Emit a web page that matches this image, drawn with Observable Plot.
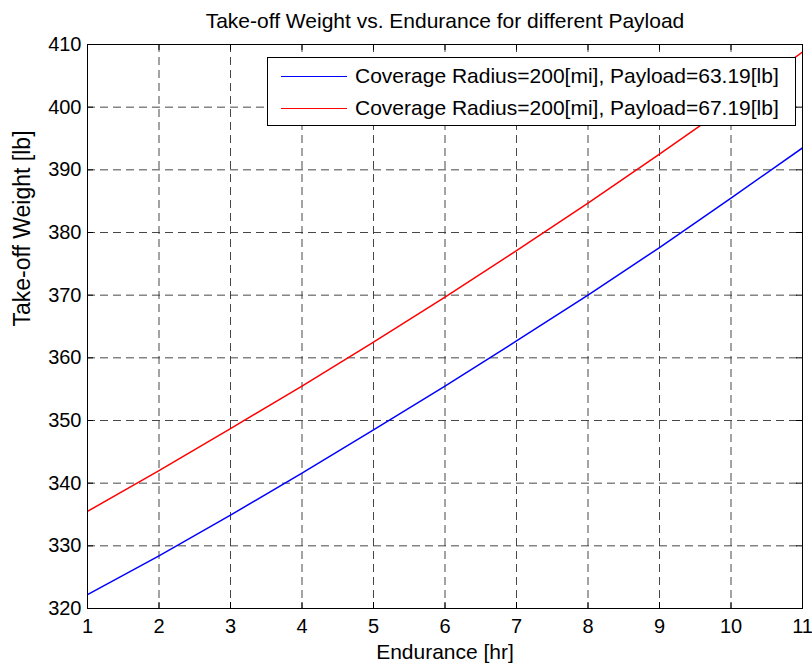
<!DOCTYPE html>
<html>
<head>
<meta charset="utf-8">
<script src="https://cdn.jsdelivr.net/npm/d3@7"></script>
<script src="https://cdn.jsdelivr.net/npm/@observablehq/plot@0.6"></script>
<style>
  html, body { margin: 0; padding: 0; background: #fff; }
  #chart { position: relative; width: 812px; height: 666px; font-family: "Liberation Sans", Arial, sans-serif; }
  #legend {
    position: absolute; left: 267px; top: 57px; width: 527px; height: 67px;
    border: 1px solid #000; background: #fff;
    font-size: 21px; color: #000;
  }
  .row { position: absolute; left: 0; height: 32px; display: flex; align-items: center; white-space: nowrap; }
  .swatch { display: inline-block; width: 66px; height: 0; border-top: 1.4px solid; margin-left: 13px; margin-right: 8px; }
</style>
</head>
<body>
<div id="chart"></div>
<script>
// Endurance in hours
const endurance = [1, 2, 3, 4, 5, 6, 7, 8, 9, 10, 11];
// Take-off weight [lb] for the two payload cases
const weightPayload6319 = [322.2, 328.4, 334.9, 341.6, 348.5, 355.5, 362.7, 370.0, 377.6, 385.5, 393.5];
const weightPayload6719 = [335.5, 342.0, 348.7, 355.5, 362.5, 369.7, 377.1, 384.7, 392.5, 400.5, 408.8];

const seriesNames = [
  "Coverage Radius=200[mi], Payload=63.19[lb]",
  "Coverage Radius=200[mi], Payload=67.19[lb]"
];
const seriesColors = ["#0000ff", "#ff0000"];

const xTicks = [1, 2, 3, 4, 5, 6, 7, 8, 9, 10, 11];
const yTicks = [320, 330, 340, 350, 360, 370, 380, 390, 400, 410];

const titleText = "Take-off Weight vs. Endurance for different Payload";
const xLabel = "Endurance [hr]";
const yLabel = "Take-off Weight [lb]";

const rows = [];
[weightPayload6319, weightPayload6719].forEach((vals, i) => {
  endurance.forEach((e, j) => rows.push({series: seriesNames[i], endurance: e, weight: vals[j]}));
});

const W = 812, H = 666;
const mL = 87, mR = 10, mT = 44, mB = 58;
const innerW = W - mL - mR, innerH = H - mT - mB;
const tickLen = 6;

const chart = Plot.plot({
  width: W,
  height: H,
  marginLeft: mL,
  marginRight: mR,
  marginTop: mT,
  marginBottom: mB,
  style: {fontFamily: "'Liberation Sans', Arial, sans-serif", background: "#fff", color: "#000"},
  x: {domain: [1, 11], ticks: xTicks},
  y: {domain: [320, 410], ticks: yTicks},
  color: {domain: seriesNames, range: seriesColors},
  marks: [
    // dashed grid
    Plot.gridX(xTicks, {stroke: "#333", strokeOpacity: 0.9, strokeDasharray: "8,5"}),
    Plot.gridY(yTicks, {stroke: "#333", strokeOpacity: 0.9, strokeDasharray: "8,5"}),
    // inward ticks on all four sides
    Plot.tickX(xTicks, {x: d => d, insetTop: innerH - tickLen, stroke: "#000"}),
    Plot.tickX(xTicks, {x: d => d, insetBottom: innerH - tickLen, stroke: "#000"}),
    Plot.tickY(yTicks, {y: d => d, insetRight: innerW - tickLen, stroke: "#000"}),
    Plot.tickY(yTicks, {y: d => d, insetLeft: innerW - tickLen, stroke: "#000"}),
    // curves
    Plot.line(rows, {x: "endurance", y: "weight", z: "series", stroke: "series", strokeWidth: 1.5, clip: true}),
    Plot.frame({stroke: "#000"}),
    // axes
    Plot.axisX(xTicks, {tickSize: 0, tickPadding: 10, fontSize: 20, label: null}),
    Plot.axisY(yTicks, {tickSize: 0, tickPadding: 6, fontSize: 20, label: null}),
    // title and axis labels
    Plot.text([titleText], {frameAnchor: "top", dy: -31, fontSize: 21, lineAnchor: "top"}),
    Plot.text([xLabel], {frameAnchor: "bottom", dy: 36, fontSize: 21, lineAnchor: "top"}),
    Plot.text([yLabel], {frameAnchor: "left", dx: -65, rotate: -90, fontSize: 23})
  ]
});

const container = document.getElementById("chart");
container.appendChild(chart);

// legend box over the upper right of the plot
const legend = document.createElement("div");
legend.id = "legend";
seriesNames.forEach((name, i) => {
  const row = document.createElement("div");
  row.className = "row";
  row.style.top = (2 + i * 32) + "px";
  const sw = document.createElement("span");
  sw.className = "swatch";
  sw.style.borderTopColor = seriesColors[i];
  const label = document.createElement("span");
  label.textContent = name;
  row.appendChild(sw);
  row.appendChild(label);
  legend.appendChild(row);
});
container.appendChild(legend);
</script>
</body>
</html>
